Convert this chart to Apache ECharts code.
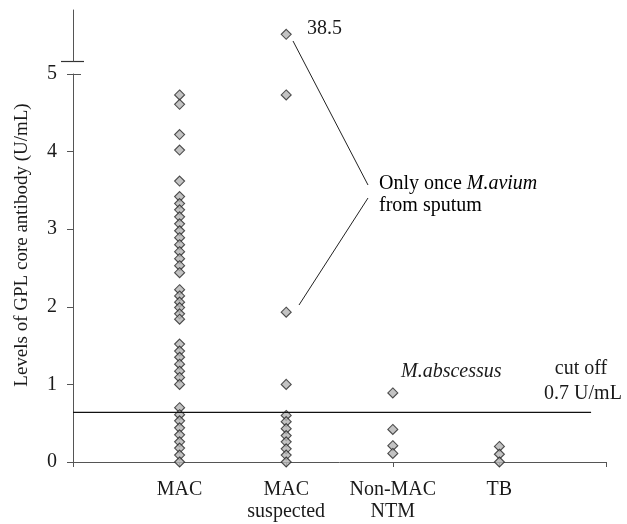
<!DOCTYPE html>
<html>
<head>
<meta charset="utf-8">
<script src="https://cdn.jsdelivr.net/npm/echarts@6/dist/echarts.min.js"></script>
<style>
html,body{margin:0;padding:0;background:#fff;}
#chart{width:627px;height:524px;}
</style>
</head>
<body>
<div id="chart"></div>
<script>
// ---- data ----
const categories = ['MAC', 'MAC\nsuspected', 'Non-MAC\nNTM', 'TB'];
const categoryPositions = [1, 2, 3, 4];
const macValues = [4.73, 4.61, 4.22, 4.02, 3.62,
  3.42, 3.33, 3.25, 3.16, 3.07, 2.98, 2.89, 2.80, 2.71, 2.62, 2.53, 2.44,
  2.22, 2.14, 2.06, 1.99, 1.91, 1.84,
  1.52, 1.43, 1.35, 1.26, 1.17, 1.09, 1.00,
  0.70, 0.61, 0.53, 0.44, 0.35, 0.26, 0.18, 0.09, 0.00];
const suspectedValues = [4.73, 1.93, 1.00, 0.60, 0.52, 0.43, 0.34, 0.26, 0.17, 0.09, 0.00];
const suspectedOutlier = [38.5];
const nonMacValues = [0.89, 0.42, 0.21, 0.11];
const tbValues = [0.20, 0.10, 0.00];
const cutoffValue = 0.64;
const cutoffEnd = 4.86;
const yTickLabels = ['0', '1', '2', '3', '4', '5'];

const FONT = '"Liberation Serif", "Times New Roman", serif';
const TXT = '#1a1a1a';
const FS = 20;

function pts(pos, vals) { return vals.map(v => [pos, v]); }

const markerStyle = { color: '#b4b4b4', borderColor: '#262626', borderWidth: 1.1 };
const scatterBase = {
  type: 'scatter', symbol: 'diamond', symbolSize: [10, 10],
  itemStyle: markerStyle, z: 3, silent: true
};

const chart = echarts.init(document.getElementById('chart'), null, { renderer: 'canvas' });

chart.setOption({
  animation: false,
  backgroundColor: '#fff',
  textStyle: { fontFamily: FONT, color: TXT },
  grid: [
    { left: 73, right: 21, top: 74, bottom: 62 },
    { left: 73, right: 21, top: 10, height: 51 }
  ],
  xAxis: [
    {
      gridIndex: 0, type: 'value', min: 0, max: 5, interval: 1,
      axisLine: { show: true, lineStyle: { color: '#555', width: 1 } },
      axisTick: { show: true, length: 5, lineStyle: { color: '#555' } },
      splitLine: { show: false },
      axisLabel: {
        margin: 17, fontFamily: FONT, fontSize: FS, color: TXT, lineHeight: 22,
        formatter: function (v) {
          const i = categoryPositions.indexOf(v);
          return i >= 0 ? categories[i] : '';
        }
      }
    },
    {
      gridIndex: 1, type: 'value', min: 0, max: 5, show: false
    }
  ],
  yAxis: [
    {
      gridIndex: 0, type: 'value', min: 0, max: 5, interval: 1,
      name: 'Levels of GPL core antibody (U/mL)',
      nameLocation: 'middle', nameGap: 41,
      nameTextStyle: { fontFamily: FONT, fontSize: 19, color: TXT, padding: [0, 0, 0, 46] },
      axisLine: { show: true, lineStyle: { color: '#555', width: 1 } },
      axisTick: { show: true, length: 6, lineStyle: { color: '#555' } },
      splitLine: { show: false },
      axisLabel: {
        margin: 16, fontFamily: FONT, fontSize: FS, color: TXT,
        formatter: function (v) { return yTickLabels[Math.round(v)]; }
      }
    },
    {
      gridIndex: 1, type: 'value', min: 37.4, max: 39.5,
      axisLine: { show: true, lineStyle: { color: '#555', width: 1 } },
      axisTick: { show: false }, axisLabel: { show: false }, splitLine: { show: false }
    }
  ],
  series: [
    Object.assign({ name: 'MAC', xAxisIndex: 0, yAxisIndex: 0, data: pts(categoryPositions[0], macValues) }, scatterBase),
    Object.assign({ name: 'MAC suspected', xAxisIndex: 0, yAxisIndex: 0, data: pts(categoryPositions[1], suspectedValues) }, scatterBase),
    Object.assign({ name: 'MAC suspected (high)', xAxisIndex: 1, yAxisIndex: 1, data: pts(categoryPositions[1], suspectedOutlier) }, scatterBase),
    Object.assign({ name: 'Non-MAC NTM', xAxisIndex: 0, yAxisIndex: 0, data: pts(categoryPositions[2], nonMacValues) }, scatterBase),
    Object.assign({ name: 'TB', xAxisIndex: 0, yAxisIndex: 0, data: pts(categoryPositions[3], tbValues) }, scatterBase),
    {
      name: 'cutoff', type: 'line', xAxisIndex: 0, yAxisIndex: 0,
      data: [[0, cutoffValue], [cutoffEnd, cutoffValue]],
      symbol: 'none', z: 5, silent: true,
      lineStyle: { color: '#111', width: 1.3 }
    }
  ],
  graphic: [
    // axis break marks
    { type: 'line', shape: { x1: 61, y1: 61.5, x2: 84, y2: 61.5 }, style: { stroke: '#333', lineWidth: 1.2 }, silent: true },
    { type: 'line', shape: { x1: 73, y1: 74.5, x2: 81, y2: 74.5 }, style: { stroke: '#555', lineWidth: 1 }, silent: true },
    // annotations
    { type: 'text', x: 307, y: 29, style: { text: '38.5', font: FS + 'px ' + FONT, fill: TXT, verticalAlign: 'middle' }, silent: true },
    { type: 'line', shape: { x1: 293, y1: 41, x2: 368, y2: 185 }, style: { stroke: '#222', lineWidth: 1 }, silent: true },
    { type: 'line', shape: { x1: 368, y1: 198, x2: 299, y2: 305 }, style: { stroke: '#222', lineWidth: 1 }, silent: true },
    {
      type: 'text', x: 379, y: 173, silent: true,
      style: {
        text: '{n|Only once }{i|M.avium}\n{n|from sputum}',
        rich: {
          n: { fontFamily: FONT, fontSize: FS, color: TXT, lineHeight: 22 },
          i: { fontFamily: FONT, fontSize: FS, color: TXT, fontStyle: 'italic', lineHeight: 22 }
        }
      }
    },
    { type: 'text', x: 401, y: 372, style: { text: 'M.abscessus', font: 'italic ' + FS + 'px ' + FONT, fill: TXT, verticalAlign: 'middle' }, silent: true },
    { type: 'text', x: 581, y: 369, style: { text: 'cut off', font: FS + 'px ' + FONT, fill: TXT, align: 'center', verticalAlign: 'middle' }, silent: true },
    { type: 'text', x: 583, y: 394, style: { text: '0.7 U/mL', font: FS + 'px ' + FONT, fill: TXT, align: 'center', verticalAlign: 'middle' }, silent: true }
  ]
});
</script>
</body>
</html>
